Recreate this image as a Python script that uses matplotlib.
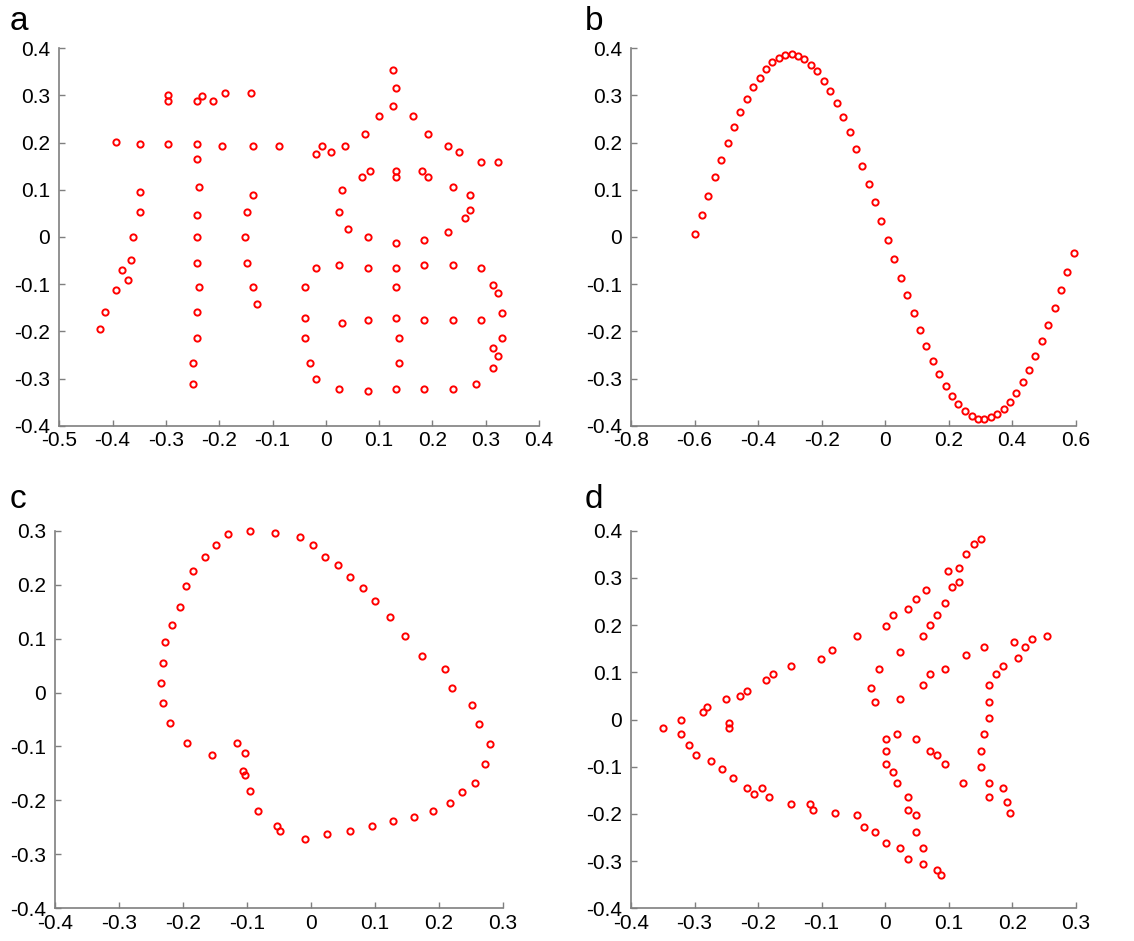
import matplotlib
matplotlib.use('Agg')
import matplotlib.pyplot as plt

plt.rcParams['font.family'] = ['Liberation Sans', 'DejaVu Sans']
plt.rcParams['axes.unicode_minus'] = False

# panel a: two Chinese-like characters drawn as points
a_x = [-0.424, -0.414, -0.393, -0.371, -0.382, -0.365, -0.361, -0.349, -0.349,
       -0.393, -0.349, -0.296, -0.296, -0.296, -0.2425, -0.232, -0.211, -0.189, -0.141,
       -0.2425, -0.194, -0.136, -0.088,
       -0.2425, -0.238, -0.2425, -0.2425, -0.2425, -0.238, -0.2425, -0.2425, -0.249, -0.249,
       -0.136, -0.1475, -0.152, -0.1475, -0.136, -0.130,
       0.127, 0.132, 0.127, 0.100, 0.164, 0.074, 0.191, 0.229, 0.250, 0.292, 0.324,
       -0.018, -0.007, 0.009, 0.036,
       0.068, 0.083, 0.132, 0.132, 0.181, 0.191,
       0.031, 0.025, 0.041, 0.079, 0.132, 0.185, 0.229, 0.239, 0.271, 0.271, 0.261,
       -0.018, 0.025, 0.079, 0.132, 0.185, 0.239, 0.292,
       -0.039, 0.132, 0.313, 0.324, 0.331,
       -0.039, 0.031, 0.079, 0.132, 0.185, 0.239, 0.292,
       -0.039, 0.137, 0.331, 0.313, 0.324, 0.313,
       -0.029, 0.137, -0.018, 0.025, 0.079, 0.132, 0.185, 0.239, 0.282]
a_y = [-0.194, -0.160, -0.112, -0.091, -0.071, -0.049, -0.001, 0.052, 0.095,
       0.202, 0.197, 0.197, 0.300, 0.288, 0.288, 0.299, 0.288, 0.305, 0.305,
       0.197, 0.192, 0.192, 0.192,
       0.165, 0.105, 0.047, -0.001, -0.055, -0.107, -0.160, -0.215, -0.268, -0.312,
       0.089, 0.052, -0.001, -0.055, -0.107, -0.141,
       0.353, 0.315, 0.277, 0.257, 0.257, 0.218, 0.218, 0.192, 0.181, 0.159, 0.159,
       0.176, 0.192, 0.181, 0.192,
       0.128, 0.139, 0.139, 0.128, 0.139, 0.128,
       0.100, 0.052, 0.016, -0.001, -0.013, -0.007, 0.010, 0.106, 0.089, 0.058, 0.041,
       -0.066, -0.060, -0.066, -0.066, -0.060, -0.060, -0.066,
       -0.107, -0.107, -0.102, -0.119, -0.161,
       -0.172, -0.183, -0.177, -0.172, -0.177, -0.177, -0.177,
       -0.215, -0.215, -0.215, -0.236, -0.253, -0.278,
       -0.268, -0.268, -0.301, -0.322, -0.327, -0.322, -0.322, -0.322, -0.312]

# panel b: sine-like curve
b_x = [-0.598, -0.577, -0.557, -0.536, -0.516, -0.496, -0.476, -0.456, -0.435, -0.415,
       -0.395, -0.375, -0.356, -0.335, -0.315, -0.294, -0.274, -0.254, -0.234, -0.214,
       -0.193, -0.173, -0.153, -0.133, -0.112, -0.092, -0.072, -0.051, -0.033, -0.012,
       0.008, 0.029, 0.049, 0.070, 0.090, 0.109, 0.130, 0.150, 0.170, 0.191,
       0.212, 0.231, 0.252, 0.272, 0.292, 0.312, 0.332, 0.353, 0.373, 0.392,
       0.412, 0.433, 0.453, 0.473, 0.493, 0.514, 0.534, 0.554, 0.574, 0.595]
b_y = [0.007, 0.047, 0.087, 0.127, 0.163, 0.199, 0.233, 0.264, 0.293, 0.317,
       0.338, 0.356, 0.370, 0.380, 0.385, 0.387, 0.384, 0.377, 0.365, 0.351,
       0.331, 0.310, 0.283, 0.254, 0.223, 0.187, 0.151, 0.113, 0.074, 0.034,
       -0.006, -0.047, -0.086, -0.124, -0.162, -0.198, -0.231, -0.262, -0.290, -0.315,
       -0.337, -0.354, -0.368, -0.380, -0.385, -0.386, -0.382, -0.375, -0.364, -0.349,
       -0.331, -0.308, -0.281, -0.253, -0.220, -0.186, -0.150, -0.112, -0.074, -0.033]

# panel c: closed loop with inner tail
c_x = [-0.0953, -0.0563, -0.0172, 0.0026, 0.0219, 0.0417, 0.0609, 0.0807, 0.0995, 0.1234,
       0.1469, 0.174, 0.209, 0.220, 0.2516, 0.263, 0.279, 0.272, 0.256, 0.236,
       0.217, 0.190, 0.161, 0.128, 0.096, 0.061, 0.0255, -0.0099, -0.048, -0.053,
       -0.083, -0.095, -0.1026, -0.1068, -0.1026, -0.115, -0.154, -0.193, -0.220, -0.231,
       -0.235, -0.231, -0.228, -0.217, -0.205, -0.196, -0.185, -0.165, -0.149, -0.130]
c_y = [0.300, 0.296, 0.289, 0.274, 0.252, 0.237, 0.215, 0.193, 0.170, 0.140,
       0.104, 0.067, 0.044, 0.008, -0.023, -0.059, -0.096, -0.133, -0.167, -0.185,
       -0.204, -0.219, -0.230, -0.238, -0.248, -0.256, -0.263, -0.271, -0.256, -0.248,
       -0.219, -0.182, -0.152, -0.145, -0.112, -0.093, -0.116, -0.093, -0.056, -0.019,
       0.018, 0.055, 0.093, 0.126, 0.159, 0.197, 0.226, 0.252, 0.274, 0.293]

# panel d: star / arrow shape
d_x = [-0.349, -0.321, -0.321, -0.309, -0.297, -0.274, -0.257, -0.240, -0.217, -0.206,
       -0.194, -0.182, -0.148, -0.119, -0.113, -0.079, -0.045, -0.033, -0.016, 0.002,
       0.024, 0.036, 0.059, 0.082, 0.088,
       -0.280, -0.286, -0.251, -0.228, -0.217, -0.188, -0.176, -0.148, -0.101, -0.084,
       -0.045, 0.002, 0.013, 0.036, 0.048, 0.065, 0.099, 0.116, 0.128, 0.140, 0.151,
       0.116, 0.105, 0.094, 0.082, 0.070, 0.059, 0.024, -0.010, -0.022, -0.016,
       0.024, 0.059, 0.070, 0.094, 0.128, 0.156,
       0.203, 0.220, 0.231, 0.255, 0.209, 0.186, 0.174, 0.163, 0.163, 0.163,
       0.156, 0.151, 0.151, 0.163, 0.163, 0.186, 0.192, 0.197,
       0.002, 0.002, 0.002, 0.013, 0.018, 0.036, 0.036, 0.048, 0.048, 0.059,
       0.018, 0.048, 0.070, 0.082, 0.094, 0.122,
       -0.245, -0.245]
d_y = [-0.019, -0.002, -0.030, -0.053, -0.076, -0.088, -0.105, -0.123, -0.146, -0.157,
       -0.146, -0.164, -0.179, -0.179, -0.192, -0.198, -0.203, -0.227, -0.238, -0.261,
       -0.273, -0.296, -0.306, -0.319, -0.330,
       0.026, 0.015, 0.044, 0.050, 0.061, 0.084, 0.096, 0.113, 0.129, 0.148,
       0.177, 0.199, 0.222, 0.234, 0.256, 0.274, 0.314, 0.320, 0.350, 0.372, 0.383,
       0.292, 0.280, 0.246, 0.222, 0.200, 0.177, 0.142, 0.107, 0.067, 0.038,
       0.044, 0.073, 0.096, 0.107, 0.136, 0.153,
       0.165, 0.153, 0.171, 0.177, 0.130, 0.113, 0.096, 0.073, 0.038, 0.004,
       -0.030, -0.066, -0.100, -0.134, -0.164, -0.146, -0.174, -0.198,
       -0.042, -0.066, -0.094, -0.112, -0.134, -0.164, -0.192, -0.203, -0.238, -0.273,
       -0.030, -0.042, -0.066, -0.076, -0.094, -0.134,
       -0.008, -0.019]

W, H = 1134, 941
panels = [
    ('a', a_x, a_y, (59.3, 539.0, 48.3, 425.7), (-0.5, 0.4), (-0.4, 0.4),
     [-0.5, -0.4, -0.3, -0.2, -0.1, 0, 0.1, 0.2, 0.3, 0.4],
     [-0.4, -0.3, -0.2, -0.1, 0, 0.1, 0.2, 0.3, 0.4], (10, 30)),
    ('b', b_x, b_y, (631.0, 1075.7, 48.3, 425.7), (-0.8, 0.6), (-0.4, 0.4),
     [-0.8, -0.6, -0.4, -0.2, 0, 0.2, 0.4, 0.6],
     [-0.4, -0.3, -0.2, -0.1, 0, 0.1, 0.2, 0.3, 0.4], (585, 30)),
    ('c', c_x, c_y, (55.0, 503.0, 530.7, 908.3), (-0.4, 0.3), (-0.4, 0.3),
     [-0.4, -0.3, -0.2, -0.1, 0, 0.1, 0.2, 0.3],
     [-0.4, -0.3, -0.2, -0.1, 0, 0.1, 0.2, 0.3], (10, 508)),
    ('d', d_x, d_y, (631.0, 1075.7, 530.7, 908.3), (-0.4, 0.3), (-0.4, 0.4),
     [-0.4, -0.3, -0.2, -0.1, 0, 0.1, 0.2, 0.3],
     [-0.4, -0.3, -0.2, -0.1, 0, 0.1, 0.2, 0.3, 0.4], (585, 508)),
]


def fmt(v):
    return '0' if v == 0 else f'{v:g}'


fig = plt.figure(figsize=(W / 100, H / 100), dpi=100)
for name, xs, ys, (l, r, t, b), xl, yl, xt, yt, (lx, ly) in panels:
    ax = fig.add_axes([l / W, 1 - b / H, (r - l) / W, (b - t) / H])
    ax.plot(xs, ys, 'o', mfc='none', mec='red', ms=4.5, mew=1.4, clip_on=False)
    ax.set_xlim(xl)
    ax.set_ylim(yl)
    ax.set_xticks(xt)
    ax.set_xticklabels([fmt(v) for v in xt])
    ax.set_yticks(yt)
    ax.set_yticklabels([fmt(v) for v in yt])
    for s in ['top', 'right']:
        ax.spines[s].set_visible(False)
    for s in ['left', 'bottom']:
        ax.spines[s].set_color('#7f7f7f')
        ax.spines[s].set_linewidth(1.2)
    ax.tick_params(direction='in', length=4, width=1, color='#7f7f7f',
                   labelsize=15)
    ax.tick_params(axis='x', pad=4)
    ax.tick_params(axis='y', pad=6.5)
    fig.text(lx / W, 1 - ly / H, name, fontsize=24, ha='left', va='baseline')

fig.savefig('out.png', dpi=100)
